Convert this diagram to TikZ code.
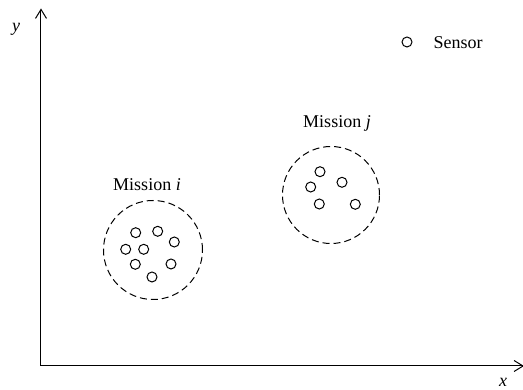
\documentclass[tikz,border=0pt]{standalone}
\usepackage{fontspec}
\setmainfont{Liberation Serif}
\usetikzlibrary{arrows.meta}

\tikzset{
	axis/.style={line width=1pt, -{Straight Barb[length=9pt,width=11pt,line width=1pt]}},
	sensor/.style={circle, draw, line width=1pt, minimum size=10pt, inner sep=0pt},
	region/.style={circle, draw, dashed, dash pattern=on 7pt off 4pt, line width=1pt},
	lbl/.style={font=\fontsize{18}{20}\selectfont}
}

\begin{document}
\begin{tikzpicture}[x=10pt,y=10pt]
		\useasboundingbox (-4.1,-2.4) rectangle (48.2,36.6);

		% axes
		\coordinate (o) at (0,0);
		\coordinate (xend) at (48.3,0);
		\coordinate (yend) at (0,35.75);
		\draw[axis] (o) -- (xend);
		\draw[axis] (o) -- (yend);
		\node[lbl] (xl) at (46.2,-1.6) {\textit{x}};
		\node[lbl] (yl) at (-2.5,33.7) {\textit{y}};

		% legend
		\node[sensor] (leg) at (36.6,32.4) {};
		\node[lbl, anchor=west] (legtxt) at (38.9,32.3) {Sensor};

		% mission i
		\node[region, minimum size=99pt] (mi) at (11.2,11.6) {};
		\node[lbl] (mil) at (10.6,18.1) {Mission \textit{i}};
		\node[sensor] (i1) at (9.47,13.33) {};
		\node[sensor] (i2) at (11.67,13.47) {};
		\node[sensor] (i3) at (13.33,12.4) {};
		\node[sensor] (i4) at (8.47,11.67) {};
		\node[sensor] (i5) at (10.27,11.67) {};
		\node[sensor] (i6) at (9.43,10.17) {};
		\node[sensor] (i7) at (13.0,10.2) {};
		\node[sensor] (i8) at (11.1,8.9) {};

		% mission j
		\node[region, minimum size=97pt] (mj) at (29.0,17.1) {};
		\node[lbl] (mjl) at (29.6,24.3) {Mission \textit{j}};
		\node[sensor] (j1) at (27.9,19.43) {};
		\node[sensor] (j2) at (30.1,18.37) {};
		\node[sensor] (j3) at (26.97,17.9) {};
		\node[sensor] (j4) at (27.83,16.2) {};
		\node[sensor] (j5) at (31.43,16.17) {};
	\end{tikzpicture}
\end{document}
